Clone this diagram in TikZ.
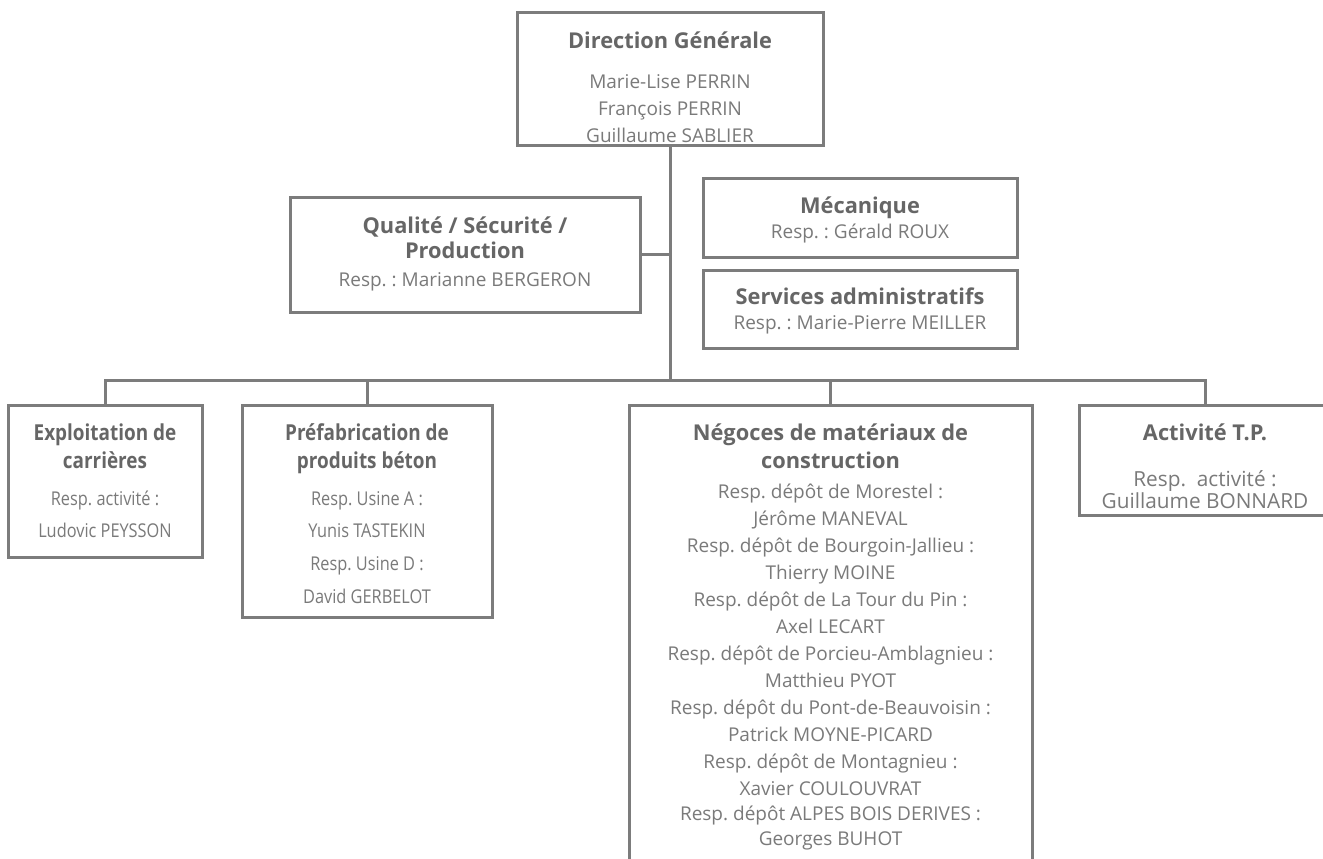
\documentclass[tikz,border=0pt]{standalone}
\usepackage{fontspec}
\setmainfont{Open Sans}
\frenchspacing
\definecolor{linec}{HTML}{7C7C7C}
\definecolor{titlec}{HTML}{666666}
\definecolor{bodyc}{HTML}{7A7A7A}
\newcommand\boxtitle[2][21.8]{{\bfseries\color{titlec}\fontsize{#1}{27}\selectfont #2}}
\tikzset{
  orgbox/.style={draw=linec, line width=3pt, inner sep=0pt, fill=none},
  txt/.style={align=center, text=bodyc, inner sep=0pt, font=\fontsize{19}{27}\selectfont},
  narrowtxt/.style={txt, xscale=0.86, transform shape},
  bigtxt/.style={txt, font=\fontsize{20.8}{27}\selectfont},
  conn/.style={draw=linec, line width=3pt}
}
\begin{document}
\begin{tikzpicture}[x=1pt,y=-1pt]
\useasboundingbox (0,0) rectangle (1323,859);
\clip (0,0) rectangle (1323,859);
\fill[white] (0,0) rectangle (1323,859);
% boxes
\node[orgbox, minimum width=306pt, minimum height=132pt] (dg) at (670,79) {};
\node[orgbox, minimum width=350pt, minimum height=115pt] (qs) at (465,254.5) {};
\node[orgbox, minimum width=314pt, minimum height=79pt] (mec) at (860,217.5) {};
\node[orgbox, minimum width=314pt, minimum height=78pt] (sa) at (860,309) {};
\node[orgbox, minimum width=194pt, minimum height=152pt] (ex) at (105,481) {};
\node[orgbox, minimum width=250pt, minimum height=212pt] (pre) at (367,511) {};
\node[orgbox, minimum width=403pt, minimum height=480pt] (neg) at (830.5,645) {};
\node[orgbox, minimum width=252pt, minimum height=110pt] (tp) at (1205,460) {};
% texts
\node[txt] (dgt) at (670,87) {\boxtitle{Direction Générale}\\[13pt]Marie-Lise PERRIN\\François PERRIN\\Guillaume SABLIER};
\node[txt] (qst) at (465,253.5) {\boxtitle{Qualité / Sécurité /}\\[-2pt]\boxtitle{Production}\\[1pt]Resp. : Marianne BERGERON};
\node[txt] (mect) at (860,219.5) {\boxtitle{Mécanique}\\[-2pt]Resp. : Gérald ROUX};
\node[txt] (sat) at (860,310.5) {\boxtitle{Services administratifs}\\[-2pt]Resp. : Marie-Pierre MEILLER};
\node[narrowtxt] (ext) at (105,480.5) {\boxtitle[22]{Exploitation de}\\[1pt]\boxtitle[22]{carrières}\\[10pt]Resp. activité :\\[5pt]Ludovic PEYSSON};
\node[narrowtxt] (pret) at (367,513.5) {\boxtitle[22]{Préfabrication de}\\[1pt]\boxtitle[22]{produits béton}\\[10pt]Resp. Usine A :\\[5pt]Yunis TASTEKIN\\[6pt]Resp. Usine D :\\[6pt]David GERBELOT};
\node[txt] (negt) at (830.5,637) {\boxtitle{Négoces de matériaux de}\\[1pt]\boxtitle{construction}\\[3pt]Resp. dépôt de Morestel :\\Jérôme MANEVAL\\Resp. dépôt de Bourgoin-Jallieu :\\Thierry MOINE\\Resp. dépôt de La Tour du Pin :\\Axel LECART\\Resp. dépôt de Porcieu-Amblagnieu :\\Matthieu PYOT\\Resp. dépôt du Pont-de-Beauvoisin :\\Patrick MOYNE-PICARD\\Resp. dépôt de Montagnieu :\\Xavier COULOUVRAT\\[-2pt]Resp. dépôt ALPES BOIS DERIVES :\\[-2pt]Georges BUHOT};
\node[bigtxt] (tpt) at (1205,466) {\boxtitle{Activité T.P.}\\[19pt]Resp.~ activité :\\[-5pt]Guillaume BONNARD};
% connectors
\coordinate (bus) at (670,382);
\draw[conn] (dg.south) -- (bus);
\draw[conn] (qs.east) -- (qs.east -| bus);
\draw[conn] (ex.north) -- ++(0,-23) -| (tp.north);
\draw[conn] (pre.north) -- (pre.north |- bus);
\draw[conn] (neg.north) -- (neg.north |- bus);
\end{tikzpicture}
\end{document}
